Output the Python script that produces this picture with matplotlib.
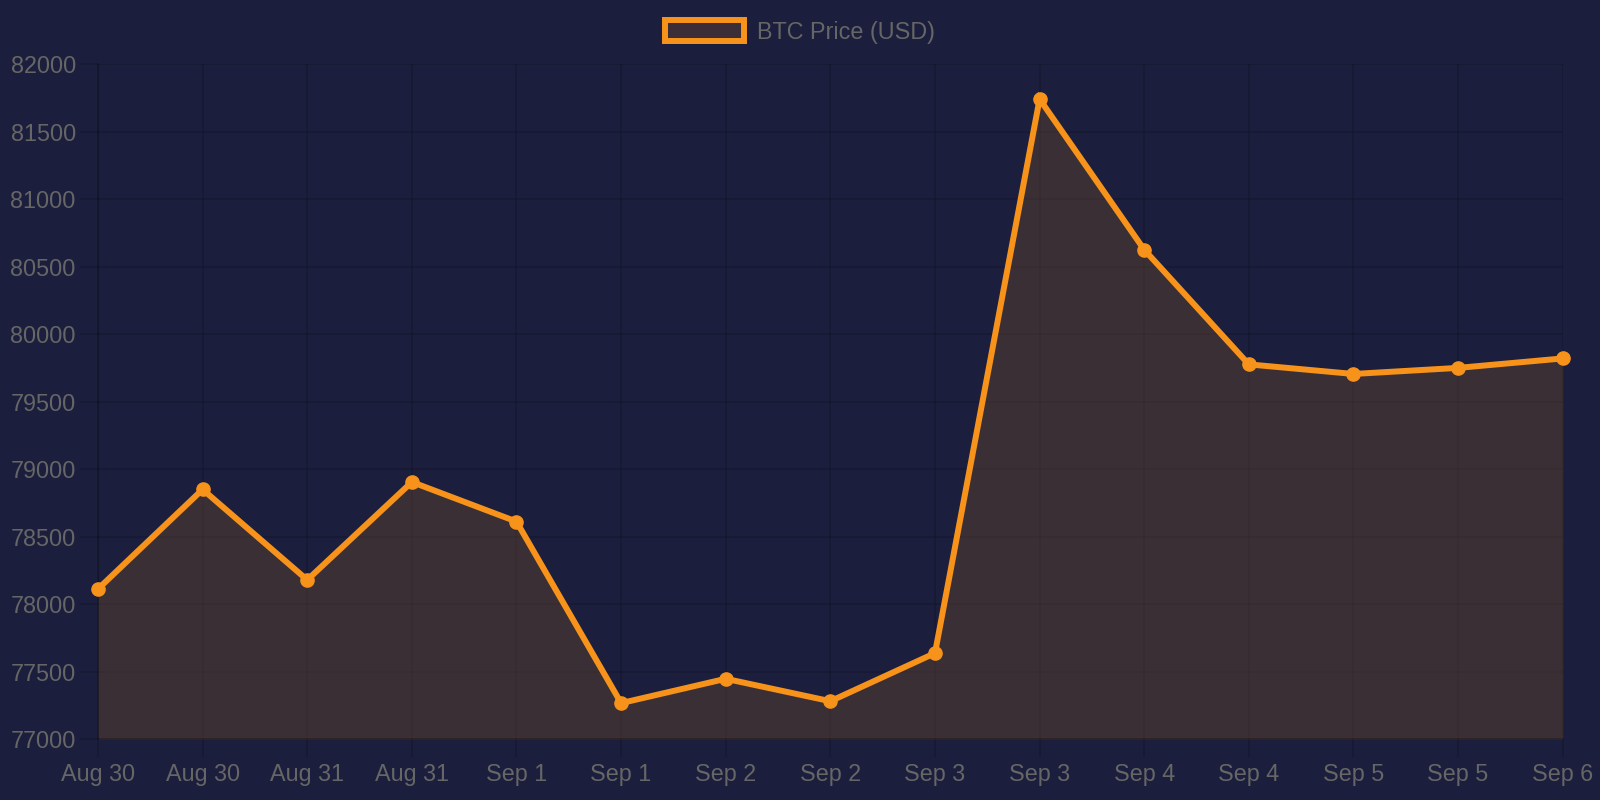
import matplotlib
matplotlib.use("Agg")
import matplotlib.pyplot as plt
from matplotlib.patches import Rectangle

labels = ["Aug 30", "Aug 30", "Aug 31", "Aug 31", "Sep 1", "Sep 1", "Sep 2", "Sep 2",
          "Sep 3", "Sep 3", "Sep 4", "Sep 4", "Sep 5", "Sep 5", "Sep 6"]
prices = [78113, 78850, 78180, 78905, 78612, 77268, 77448, 77282, 77638,
          81740, 80625, 79776, 79705, 79750, 79820]
y_ticks = [77000, 77500, 78000, 78500, 79000, 79500, 80000, 80500, 81000, 81500, 82000]
series_name = "BTC Price (USD)"

BG = "#1b1e3c"
ORANGE = "#f7931a"
TEXT = "#666666"
TICKC = "#171a34"

plt.rcParams['font.family'] = ['Liberation Sans', 'DejaVu Sans']

fig = plt.figure(figsize=(16, 8), dpi=100, facecolor=BG)
ax = fig.add_axes([98/1600, 1 - 739.3/800, (1562.7 - 98)/1600, (739.3 - 64)/800])
ax.set_facecolor(BG)

x = list(range(len(prices)))
ax.fill_between(x, y_ticks[0], prices, color=ORANGE, alpha=0.15, linewidth=0, zorder=2)
ax.plot(x, prices, color=ORANGE, linewidth=4.3, marker='o', markersize=9.5,
        markerfacecolor=ORANGE, markeredgecolor=ORANGE, clip_on=False, zorder=3,
        solid_joinstyle='miter')

ax.set_xlim(0, len(prices) - 1)
ax.set_ylim(y_ticks[0], y_ticks[-1])
ax.set_xticks(x)
ax.set_xticklabels(labels)
ax.set_yticks(y_ticks)
ax.set_yticklabels([str(v) for v in y_ticks])

ax.set_axisbelow(True)
ax.grid(True, color='black', alpha=0.12, linewidth=1.2)
ax.tick_params(axis='both', colors=TICKC, labelcolor=TEXT, labelsize=16.8,
               length=13, width=1.2)
ax.tick_params(axis='x', pad=4)
ax.tick_params(axis='y', pad=3)
for side, sp in ax.spines.items():
    if side in ('left', 'bottom'):
        sp.set_color('black')
        sp.set_alpha(0.22)
        sp.set_linewidth(1.2)
    else:
        sp.set_visible(False)

handle = Rectangle((0, 0), 1, 1, facecolor="#3b2e37", edgecolor=ORANGE, linewidth=4.3)
fig.legend([handle], [series_name], loc='center', bbox_to_anchor=(0.5, 0.96),
           frameon=False, fontsize=16.8, labelcolor=TEXT, handlelength=3.4,
           handleheight=1.0, handletextpad=0.55)

fig.savefig("out.png", dpi=100, facecolor=BG)
